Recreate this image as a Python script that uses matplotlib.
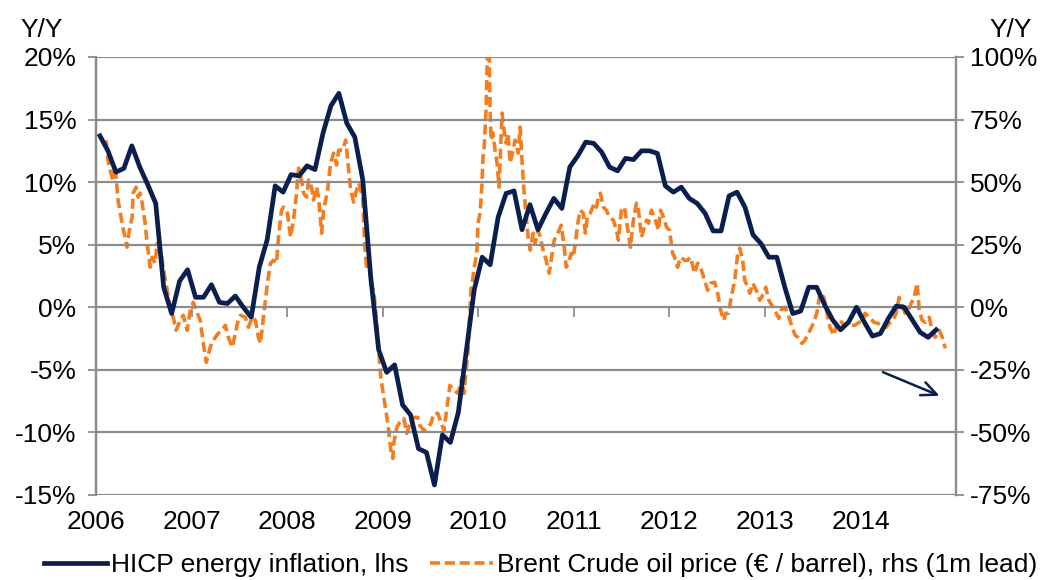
import matplotlib
matplotlib.use("Agg")
import matplotlib.pyplot as plt
import numpy as np
from matplotlib.lines import Line2D

# HICP energy inflation, y/y %, monthly Jan 2006 - Oct 2014 (lhs)
hicp = [
    13.7, 12.5, 10.8, 11.1, 12.9, 11.2, 9.8, 8.3, 1.6, -0.5, 2.1, 3.0,      # 2006
    0.8, 0.8, 1.8, 0.4, 0.3, 0.9, 0.0, -0.8, 3.2, 5.4, 9.7, 9.2,           # 2007
    10.6, 10.5, 11.3, 11.0, 13.9, 16.1, 17.1, 14.7, 13.6, 10.2, 2.4, -3.4, # 2008
    -5.2, -4.6, -7.8, -8.6, -11.3, -11.6, -14.2, -10.2, -10.8, -8.4, -3.5, 1.4,  # 2009
    4.0, 3.4, 7.2, 9.1, 9.3, 6.2, 8.2, 6.2, 7.5, 8.7, 7.9, 11.2,           # 2010
    12.1, 13.2, 13.1, 12.4, 11.2, 10.9, 11.9, 11.8, 12.5, 12.5, 12.3, 9.7, # 2011
    9.2, 9.6, 8.7, 8.3, 7.5, 6.1, 6.1, 8.9, 9.2, 8.0, 5.8, 5.1,            # 2012
    4.0, 4.0, 1.6, -0.5, -0.3, 1.6, 1.6, 0.2, -1.0, -1.8, -1.2, 0.0,       # 2013
    -1.2, -2.3, -2.1, -0.9, 0.1, 0.0, -1.0, -2.0, -2.4, -1.8,             # 2014
]
hicp_start_year = 2006

# Brent crude oil price in EUR, y/y %, (1m lead), rhs.  time = years since Jan 2006
brent_t = [
    0.105, 0.126, 0.147, 0.178, 0.199, 0.231, 0.273, 0.304, 0.325, 0.346,
    0.378, 0.388, 0.420, 0.441, 0.462, 0.483, 0.514, 0.535, 0.567, 0.588,
    0.619, 0.640, 0.682, 0.703, 0.745, 0.776, 0.808, 0.839, 0.881, 0.913,
    0.955, 0.986, 1.018, 1.060, 1.091, 1.123, 1.154, 1.175, 1.207, 1.249,
    1.280, 1.322, 1.354, 1.385, 1.427, 1.480, 1.511, 1.563, 1.595, 1.637,
    1.668, 1.700, 1.721, 1.752, 1.794, 1.826, 1.857, 1.889, 1.910, 1.941,
    1.962, 2.004, 2.036, 2.067, 2.099, 2.120, 2.151, 2.172, 2.204, 2.225,
    2.256, 2.277, 2.308, 2.329, 2.361, 2.382, 2.424, 2.455, 2.487, 2.518,
    2.539, 2.581, 2.613, 2.634, 2.665, 2.697, 2.718, 2.749, 2.791, 2.812,
    2.833, 2.854, 2.886, 2.907, 2.938, 2.959, 2.980, 3.012, 3.054, 3.085,
    3.106, 3.116, 3.148, 3.179, 3.221, 3.253, 3.284, 3.326, 3.368, 3.389,
    3.431, 3.473, 3.505, 3.536, 3.578, 3.610, 3.641, 3.673, 3.704, 3.746,
    3.788, 3.830, 3.851, 3.893, 3.924, 3.956, 3.987, 3.998, 4.019, 4.040,
    4.050, 4.061, 4.082, 4.092, 4.103, 4.113, 4.124, 4.134, 4.155, 4.176,
    4.197, 4.218, 4.250, 4.271, 4.292, 4.313, 4.334, 4.365, 4.386, 4.418,
    4.439, 4.460, 4.481, 4.502, 4.523, 4.544, 4.575, 4.596, 4.627, 4.648,
    4.680, 4.711, 4.743, 4.774, 4.795, 4.837, 4.869, 4.900, 4.921, 4.942,
    4.974, 4.995, 5.016, 5.047, 5.068, 5.100, 5.121, 5.142, 5.173, 5.215,
    5.236, 5.257, 5.278, 5.310, 5.341, 5.373, 5.414, 5.446, 5.467, 5.498,
    5.530, 5.551, 5.572, 5.593, 5.624, 5.656, 5.677, 5.708, 5.740, 5.761,
    5.782, 5.813, 5.845, 5.887, 5.908, 5.939, 5.971, 6.002, 6.034, 6.055,
    6.086, 6.118, 6.160, 6.191, 6.222, 6.264, 6.296, 6.327, 6.369, 6.401,
    6.432, 6.474, 6.506, 6.537, 6.569, 6.590, 6.621, 6.642, 6.684, 6.716,
    6.737, 6.768, 6.789, 6.821, 6.842, 6.873, 6.894, 6.925, 6.946, 6.988,
    7.009, 7.041, 7.072, 7.104, 7.146, 7.167, 7.209, 7.240, 7.272, 7.314,
    7.345, 7.387, 7.419, 7.471, 7.513, 7.545, 7.576, 7.618, 7.650, 7.681,
    7.723, 7.754, 7.786, 7.828, 7.859, 7.891, 7.943, 7.985, 8.017, 8.048,
    8.090, 8.143, 8.185, 8.227, 8.269, 8.300, 8.342, 8.373, 8.405, 8.437,
    8.468, 8.510, 8.531, 8.562, 8.594, 8.615, 8.646, 8.678, 8.720, 8.751,
    8.783, 8.825, 8.856, 8.888,
]
brent = [
    66.7, 58.8, 54.8, 50.8, 56.8, 42.8, 33.6, 28.0, 24.0, 30.0,
    36.0, 45.6, 48.0, 44.0, 45.6, 41.6, 33.6, 25.6, 16.0, 20.0,
    17.6, 25.6, 21.6, 16.0, 6.8, 0.0, -4.0, -9.2, -5.2, -3.2,
    -9.2, -1.2, 2.0, -2.4, -5.2, -14.4, -22.0, -19.0, -14.4, -12.0,
    -10.4, -9.0, -7.2, -12.0, -16.0, -6.4, -3.2, -4.0, -8.0, -4.0,
    -5.2, -12.0, -14.4, -4.0, 9.6, 17.6, 18.8, 17.6, 28.0, 38.8,
    40.0, 37.6, 28.0, 34.8, 45.6, 55.6, 50.8, 45.6, 44.0, 50.8,
    48.0, 42.8, 48.0, 44.0, 29.6, 38.8, 46.8, 57.6, 61.6, 56.8,
    62.8, 62.8, 66.8, 58.8, 46.8, 42.0, 45.6, 49.6, 44.0, 25.0,
    15.0, 22.0, 8.0, 6.8, -6.4, -17.0, -28.0, -36.0, -46.4, -57.0,
    -60.4, -54.4, -48.0, -46.0, -44.4, -50.4, -46.4, -44.0, -44.0, -47.2,
    -49.2, -48.0, -46.4, -42.4, -42.4, -46.0, -49.2, -40.0, -31.2, -33.2,
    -34.4, -28.0, -34.4, -17.2, 6.8, 14.8, 22.8, 33.6, 37.6, 49.6,
    60.0, 62.8, 78.8, 94.8, 112.0, 105.0, 80.0, 66.8, 69.6, 62.8,
    57.6, 48.0, 77.6, 70.8, 65.6, 69.6, 57.6, 62.8, 66.8, 61.6,
    72.0, 57.6, 45.6, 36.0, 28.0, 22.8, 29.6, 25.6, 30.8, 28.0,
    22.8, 18.8, 13.6, 21.6, 26.8, 30.0, 32.8, 24.0, 16.0, 17.6,
    21.6, 20.0, 25.6, 34.8, 38.8, 37.6, 29.6, 36.0, 37.6, 41.6,
    40.0, 44.0, 45.6, 40.0, 38.8, 36.0, 34.8, 30.8, 26.8, 38.8,
    40.0, 34.8, 29.6, 24.0, 34.8, 41.6, 38.8, 28.0, 32.0, 34.8,
    33.6, 38.8, 36.0, 30.8, 38.8, 36.0, 32.0, 30.8, 21.6, 20.0,
    16.0, 20.0, 18.8, 18.8, 20.0, 13.6, 17.6, 16.0, 10.8, 6.8,
    9.6, 10.0, 5.6, -1.2, -5.2, -2.4, -2.4, 2.8, 10.8, 21.6,
    23.6, 18.8, 10.8, 8.0, 5.6, 9.6, 8.0, 5.6, 2.8, 5.6,
    8.0, 2.8, 0.8, -1.2, -4.4, -1.2, 0.0, -2.4, -6.4, -11.0,
    -12.0, -14.4, -13.2, -9.2, -6.0, -2.0, 5.6, 4.0, -2.4, -8.0,
    -11.2, -6.4, -5.2, -7.2, -6.4, -7.2, -7.2, -6.0, -6.0, -2.4,
    -4.0, -6.0, -6.4, -8.0, -8.0, -6.4, -5.2, -2.4, 4.0, 0.8,
    -2.4, -0.4, 1.6, 4.0, 9.6, -1.2, -5.2, -6.0, -4.0, -9.2,
    -12.0, -9.2, -12.0, -16.4,
]

year_labels = ["2006", "2007", "2008", "2009", "2010", "2011", "2012", "2013", "2014"]
lhs_ticks = [-15, -10, -5, 0, 5, 10, 15, 20]
rhs_ticks = [-75, -50, -25, 0, 25, 50, 75, 100]

label_hicp = "HICP energy inflation, lhs"
label_brent = "Brent Crude oil price (\u20ac / barrel), rhs (1m lead)"

NAVY = "#0b1f4f"
ORANGE = "#f47d20"
GRID = "#8c8c8c"

plt.rcParams["font.family"] = ["Liberation Sans", "DejaVu Sans"]
FS = 19

fig = plt.figure(figsize=(10.46, 5.80), dpi=100)
ax = fig.add_axes([96 / 1046, 1 - 495 / 580, 860 / 1046, 438 / 580])
ax2 = ax.twinx()

t_hicp = hicp_start_year + (np.arange(len(hicp)) + 0.5) / 12.0
t_brent = hicp_start_year + np.asarray(brent_t)

DASH = (0, (2.8, 1.3))
ORANGE_LW = 2.6
NAVY_LW = 3.4
ax2.plot(t_brent, brent, color=ORANGE, lw=ORANGE_LW, linestyle=DASH,
         dash_capstyle="butt", zorder=2)
ax.plot(t_hicp, hicp, color=NAVY, lw=NAVY_LW, zorder=3)

ax.set_zorder(ax2.get_zorder() + 1)
ax.patch.set_visible(False)

xmin, xmax = hicp_start_year, hicp_start_year + len(year_labels)
ax.set_xlim(xmin, xmax)
ax.set_ylim(lhs_ticks[0], lhs_ticks[-1])
ax2.set_ylim(rhs_ticks[0], rhs_ticks[-1])

ax.set_yticks(lhs_ticks)
ax.set_yticklabels([f"{v}%" for v in lhs_ticks])
ax2.set_yticks(rhs_ticks)
ax2.set_yticklabels([f"{v}%" for v in rhs_ticks])

for v in lhs_ticks:
    ax.axhline(v, color=GRID, lw=1.6, zorder=0)
ax2.set_zorder(0)

years = [hicp_start_year + i for i in range(len(year_labels))]
ax.set_xticks(years)
ax.set_xticklabels(year_labels)
ax.tick_params(axis="x", length=0, pad=11, labelsize=FS)
ax.tick_params(axis="y", length=6, width=1.3, color=GRID, pad=8, labelsize=FS, direction="out")
ax2.tick_params(axis="y", length=6, width=1.3, color=GRID, pad=4, labelsize=FS, direction="out")

# x axis crossing at 0 with outward ticks at year boundaries
zero_frac = (0 - lhs_ticks[0]) / (lhs_ticks[-1] - lhs_ticks[0])
sec = ax.secondary_xaxis(zero_frac)
sec.set_xticks(years[1:] + [xmax])
sec.set_xticklabels([])
sec.tick_params(axis="x", length=7, width=1.3, color=GRID, direction="out")
sec.spines["bottom"].set_visible(False)
sec.spines["top"].set_visible(False)

for a in (ax, ax2):
    a.spines["top"].set_visible(False)
    a.spines["bottom"].set_visible(False)
    a.spines["left"].set_color(GRID)
    a.spines["right"].set_color(GRID)
    a.spines["left"].set_linewidth(1.6)
    a.spines["right"].set_linewidth(1.6)

fig.text(20 / 1046, 1 - 30 / 580, "Y/Y", fontsize=FS, va="center", ha="left")
fig.text(1032 / 1046, 1 - 30 / 580, "Y/Y", fontsize=FS, va="center", ha="right")

# downward arrow annotation
ax.annotate("", xy=(0.984, 0.224), xytext=(0.912, 0.283), xycoords="axes fraction",
            arrowprops=dict(arrowstyle="->,head_length=1.1,head_width=0.5",
                            color=NAVY, lw=1.8))

handles = [Line2D([], [], color=NAVY, lw=NAVY_LW),
           Line2D([], [], color=ORANGE, lw=ORANGE_LW, linestyle=DASH)]
fig.legend(handles, [label_hicp, label_brent], loc="center",
           bbox_to_anchor=(0.517, 1 - 565 / 580), ncol=2, frameon=False, fontsize=FS,
           handlelength=2.4, handletextpad=0.15, columnspacing=0.8,
           borderpad=0, borderaxespad=0)

fig.savefig("out.png", dpi=100)
